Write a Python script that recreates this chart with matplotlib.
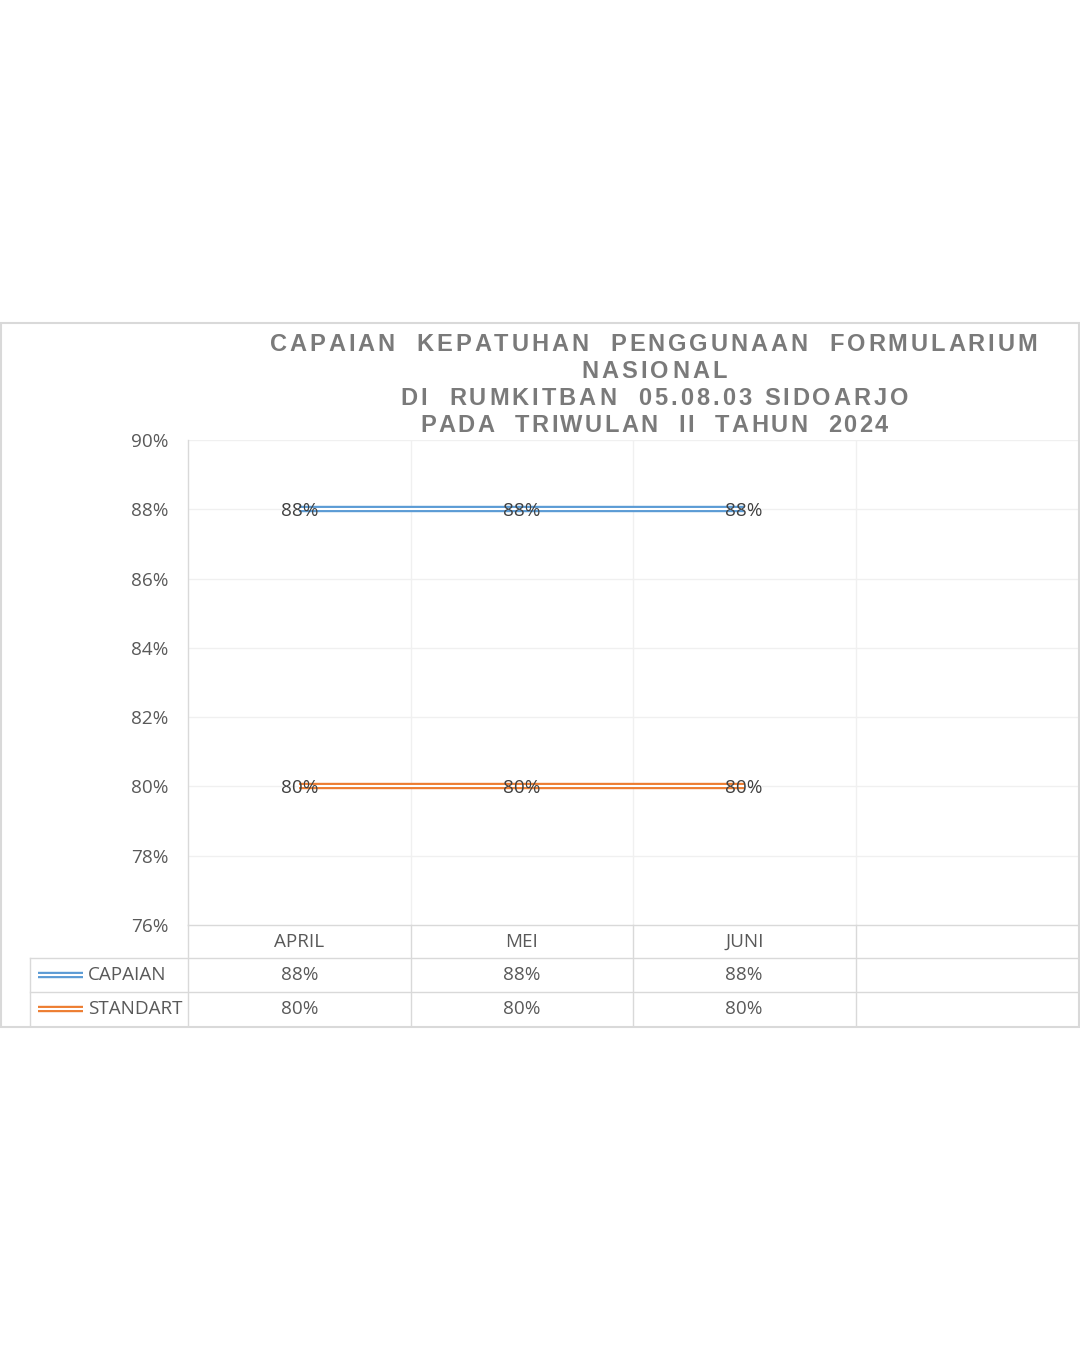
import matplotlib
matplotlib.use("Agg")
import matplotlib.pyplot as plt
from matplotlib.transforms import blended_transform_factory
from matplotlib.patches import Rectangle

# ---- data ----
months = ["APRIL", "MEI", "JUNI"]
capaian = [88, 88, 88]
standart = [80, 80, 80]
series_names = ["CAPAIAN", "STANDART"]
series_colors = ["#5B9BD5", "#ED7D31"]
yticks = [76, 78, 80, 82, 84, 86, 88, 90]
title_lines = [
    "CAPAIAN  KEPATUHAN  PENGGUNAAN  FORMULARIUM",
    "NASIONAL",
    "DI  RUMKITBAN  05.08.03 SIDOARJO",
    "PADA  TRIWULAN  II  TAHUN  2024",
]

W, H = 1080, 1350
FS = 13.6
plt.rcParams['font.family'] = ['Open Sans', 'DejaVu Sans']
fig = plt.figure(figsize=(W / 100, H / 100), dpi=100)

def fx(px):
    return px / W

def fy(py):
    return 1 - py / H

# plot area
ax = fig.add_axes([fx(188), fy(925), fx(1078) - fx(188), fy(440) - fy(925)])
ax.set_xlim(-0.5, 3.5)
ax.set_ylim(76, 90)
ax.set_yticks(yticks)
ax.set_yticklabels([f"{v}%" for v in yticks], color="#595959", fontsize=FS)
ax.set_xticks([])
ax.tick_params(axis='y', length=0, pad=14)
for s in ["top", "right", "bottom"]:
    ax.spines[s].set_visible(False)
ax.spines["left"].set_color("#D9D9D9")
ax.spines["left"].set_linewidth(1.0)
for v in yticks[1:]:
    ax.axhline(v, color="#F0F0F0", lw=1.0, zorder=0)
for xb in [0.5, 1.5, 2.5]:
    ax.axvline(xb, color="#F0F0F0", lw=1.0, zorder=0)

xs = list(range(len(months)))
for vals, col in [(capaian, series_colors[0]), (standart, series_colors[1])]:
    ax.plot(xs, vals, color=col, lw=4.6, solid_capstyle='butt', zorder=3)
    ax.plot(xs, vals, color="white", lw=1.5, solid_capstyle='butt', zorder=4)
    for x, v in zip(xs, vals):
        ax.annotate(f"{v}%", (x, v), xytext=(0, -2), textcoords='offset pixels',
                    ha='center', va='center', color="#404040", fontsize=FS, zorder=5)

# ---- data table ----
tr = blended_transform_factory(ax.transData, fig.transFigure)
gcol = "#D9D9D9"
fig.add_artist(plt.Line2D([fx(188), fx(1078)], [fy(925), fy(925)], color=gcol, lw=1.0))
for py in [958, 992]:
    fig.add_artist(plt.Line2D([fx(30), fx(1078)], [fy(py), fy(py)], color=gcol, lw=1.0))
fig.add_artist(plt.Line2D([fx(30), fx(30)], [fy(958), fy(1026)], color=gcol, lw=1.0))
fig.add_artist(plt.Line2D([fx(188), fx(188)], [fy(925), fy(1026)], color=gcol, lw=1.0))
for xb in [0.5, 1.5, 2.5]:
    fig.add_artist(plt.Line2D([xb, xb], [fy(925), fy(1026)], color=gcol, lw=1.0, transform=tr))

for x, m in zip(xs, months):
    fig.text(x, fy(942), m, transform=tr, ha='center', va='center', color="#595959", fontsize=FS)
rows = [(capaian, 975), (standart, 1009)]
for (vals, py), name, col in zip(rows, series_names, series_colors):
    for x, v in zip(xs, vals):
        fig.text(x, fy(py), f"{v}%", transform=tr, ha='center', va='center', color="#595959", fontsize=FS)
    fig.add_artist(plt.Line2D([fx(38), fx(83)], [fy(py), fy(py)], color=col, lw=4.6, solid_capstyle='butt'))
    fig.add_artist(plt.Line2D([fx(38), fx(83)], [fy(py), fy(py)], color="white", lw=1.5, solid_capstyle='butt'))
    fig.text(fx(88), fy(py), name, ha='left', va='center', color="#595959", fontsize=FS)

# chart border
fig.add_artist(Rectangle((fx(1), fy(1027)), fx(1078), fy(323) - fy(1027),
                         transform=fig.transFigure, fill=False, edgecolor="#D9D9D9", lw=1.5))

# ---- spaced title ----
renderer = fig.canvas.get_renderer()
tkw = dict(fontsize=17, fontweight='bold', color="#7A7A7A", family=['Liberation Sans', 'DejaVu Sans'])

def spaced(s, left, right, base_py):
    widths = []
    for ch in s:
        if ch == " ":
            t = fig.text(0, 0, "n n", **tkw)
            w3 = t.get_window_extent(renderer).width
            t.remove()
            t = fig.text(0, 0, "nn", **tkw)
            w2 = t.get_window_extent(renderer).width
            t.remove()
            widths.append(max(w3 - w2, 1))
        else:
            t = fig.text(0, 0, ch, **tkw)
            widths.append(t.get_window_extent(renderer).width)
            t.remove()
    gap = ((right - left) - sum(widths)) / max(len(s) - 1, 1)
    x = left
    for ch, w in zip(s, widths):
        if ch != " ":
            fig.text(fx(x), fy(base_py), ch, ha='left', va='baseline', **tkw)
        x += w + gap

extents = [(270, 1037), (581, 727), (400, 908), (420, 888)]
baselines = [351, 378, 405, 432]
for line, (l, r), b in zip(title_lines, extents, baselines):
    spaced(line, l, r, b)

fig.savefig("out.png", dpi=100, facecolor="white")
